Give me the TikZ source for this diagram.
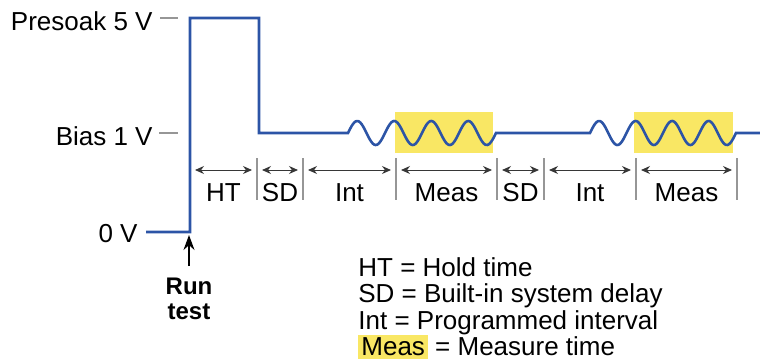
\documentclass[tikz,border=0pt]{standalone}
\usepackage{fontspec}
\setmainfont{Liberation Sans}
\usepackage{xcolor}
\usepackage{tikz}
\usetikzlibrary{arrows.meta,positioning}
\definecolor{wireblue}{RGB}{44,84,166}
\definecolor{measyellow}{RGB}{249,231,100}
\definecolor{tickgray}{RGB}{150,150,150}
\definecolor{dimgray}{RGB}{55,55,55}

\begin{document}
\begin{tikzpicture}[x=0.5pt,y=-0.5pt,
  vlabel/.style={font=\fontsize{13}{15}\selectfont,anchor=base east,inner sep=0pt},
  spanlabel/.style={font=\fontsize{13}{15}\selectfont,text=black,anchor=base,inner sep=0pt,yshift=-15.5pt},
  legend/.style={font=\fontsize{13}{13.25}\selectfont,anchor=north west,align=left,inner sep=0pt},
  runlabel/.style={font=\bfseries\fontsize{12}{12.5}\selectfont,anchor=north,align=center,inner sep=0pt},
  measbox/.style={fill=measyellow,inner sep=0pt,minimum height=20.5pt},
  wave/.style={wireblue,line width=1.3pt},
  levtick/.style={tickgray,line width=0.6pt},
  septick/.style={tickgray,line width=0.6pt},
  dim/.style={{Stealth[length=4.5pt,width=4pt]}-{Stealth[length=4.5pt,width=4pt]},
              dimgray,line width=0.5pt,shorten <=2.5pt,shorten >=2.5pt},
  runarrow/.style={-{Stealth[length=7.5pt,width=5.5pt]},black,line width=0.6pt}]
\useasboundingbox (0,0) rectangle (760,360);
\node[measbox,minimum width=49pt] (meas1) at (444,132.5) {};
\node[measbox,minimum width=49.5pt] (meas2) at (683.5,132.5) {};
\node[vlabel] (presoak) at (153,30) {Presoak 5 V};
\node[vlabel] (bias) at (153,145) {Bias 1 V};
\node[vlabel] (zerov) at (138,242) {0 V};
\draw[levtick] (160,18) -- (178,18);
\draw[levtick] (159,133) -- (178,133);
\coordinate (zero) at (146,232);
\coordinate (soakup) at (190,18);
\coordinate (soakdown) at (259,133);
\coordinate (burst1) at (348,133);
\coordinate (burst2) at (590,133);
\coordinate (tail) at (760,133);
\draw[wave] (zero) -| (soakup) -- (soakup -| soakdown) -- (soakdown) -- (burst1)
  -- plot[domain=0:148,samples=120] ({348+\x},{133-12*sin(\x/37*360)})
  -- (burst2)
  -- plot[domain=0:146,samples=120] ({590+\x},{133-12*sin(\x/36.5*360)})
  -- (tail);
\coordinate (t0) at (190,170);
\foreach \x [count=\i] in {257,303,396,497,544,636,737}{
  \coordinate (t\i) at (\x,170);
  \draw[septick] (\x,158) -- (\x,200);
}
\foreach \a/\b/\lbl in {0/1/HT,1/2/SD,2/3/Int,3/4/Meas,4/5/SD,5/6/Int,6/7/Meas}
  \draw[dim] (t\a) -- node[spanlabel] {\lbl} (t\b);
\node[runlabel] (run) at (189,278) {Run\\test};
\coordinate (runtip) at (189,235);
\draw[runarrow,shorten <=6pt] (run) -- (runtip);
\node[legend] (key) at (358,257) {HT = Hold time\\SD = Built-in system delay\\Int = Programmed interval\\
  {\fboxsep=1.5pt\colorbox{measyellow}{Meas}} = Measure time};
\end{tikzpicture}
\end{document}
